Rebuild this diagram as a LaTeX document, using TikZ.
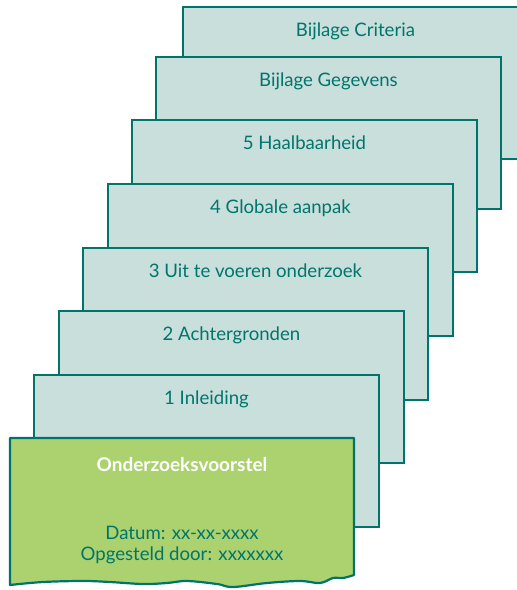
\documentclass[tikz,border=0pt]{standalone}
\usepackage{fontspec}
\setmainfont{Lato}
\definecolor{edge}{HTML}{00736A}
\definecolor{pale}{HTML}{C8DFDC}
\definecolor{leaf}{HTML}{ABD26E}
\definecolor{ink}{HTML}{00756B}
\begin{document}
\begin{tikzpicture}[x=1pt,y=-1pt,
  page/.style={draw=edge, fill=pale, line width=2.2pt, minimum width=345pt, minimum height=152pt, anchor=north west, inner sep=0pt, outer sep=0pt},
  title/.style={text=ink, anchor=base, font=\fontsize{18.6}{21}\selectfont, inner sep=0pt}]
\useasboundingbox (0,0) rectangle (517,590);
\clip (0,0) rectangle (517,590);
\node[page] (pc) at (183,7) {};
\node[title] (tc) at ([yshift=-29.5pt]pc.north) {Bijlage Criteria};
\node[page] (pg) at (156,57) {};
\node[title] (tg) at ([yshift=-29.5pt]pg.north) {Bijlage Gegevens};
\node[page] (p5) at (132,120) {};
\node[title] (t5) at ([yshift=-29.5pt]p5.north) {5 Haalbaarheid};
\node[page] (p4) at (108,184) {};
\node[title] (t4) at ([yshift=-29.5pt]p4.north) {4 Globale aanpak};
\node[page] (p3) at (83,248) {};
\node[title] (t3) at ([yshift=-29.5pt]p3.north) {3 Uit te voeren onderzoek};
\node[page] (p2) at (59,311) {};
\node[title] (t2) at ([yshift=-29.5pt]p2.north) {2 Achtergronden};
\node[page] (p1) at (34,375) {};
\node[title] (t1) at ([yshift=-29.5pt]p1.north) {1 Inleiding};
\draw[draw=edge, fill=leaf, line width=2.2pt, line join=round]
  (10,438) -- (354,438) -- (354,575)
  -- plot[smooth, tension=0.6] coordinates {(354,575) (343,578) (333,578) (320,583) (300,581) (267,583) (233,587) (217,584) (187,581) (167,583) (143,584) (110,582) (83,581) (43,582) (10,585)}
  -- cycle;
\coordinate (gc) at (182,438);
\node[title, text=white, font=\bfseries\fontsize{19}{22}\selectfont] (tv) at ([yshift=-33pt]gc) {Onderzoeksvoorstel};
\node[title] (td) at ([yshift=-101pt]gc) {Datum: xx-xx-xxxx};
\node[title] (to) at ([yshift=-122pt]gc) {Opgesteld door: xxxxxxx};
\end{tikzpicture}
\end{document}
